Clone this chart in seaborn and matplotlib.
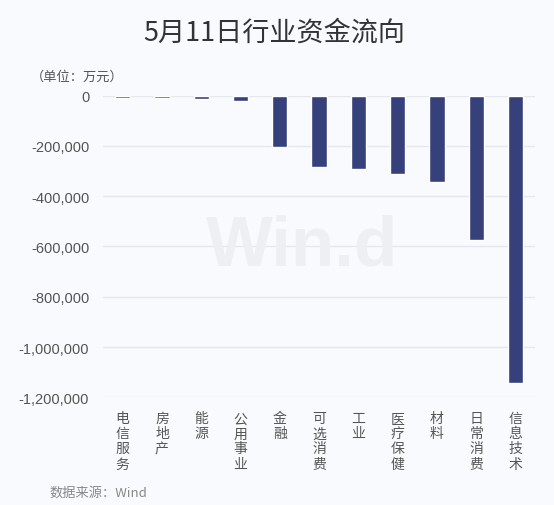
import matplotlib
matplotlib.use("Agg")
import matplotlib.pyplot as plt
import seaborn as sns
import pandas as pd
from matplotlib.ticker import FuncFormatter

categories = ["电信服务", "房地产", "能源", "公用事业", "金融", "可选消费",
              "工业", "医疗保健", "材料", "日常消费", "信息技术"]
values = [-8000, -10000, -14000, -22000, -204000, -283000,
          -292000, -312000, -345000, -575000, -1143000]
yticks = [0, -200000, -400000, -600000, -800000, -1000000, -1200000]

title = "5月11日行业资金流向"
unit_text = "（单位：万元）"
source_text = "数据来源：Wind"

sns.set_theme(style="white")
cjk = ["Noto Sans CJK SC", "DejaVu Sans"]
plt.rcParams["font.family"] = cjk

bg = "#f9fafd"
bar_color = "#36407b"

df = pd.DataFrame({"cat": categories, "val": values})

fig = plt.figure(figsize=(5.54, 5.06), dpi=100, facecolor=bg)
ax = fig.add_axes([0.186, 0.2128, 0.780, 0.5963])
ax.set_facecolor(bg)

sns.barplot(data=df, x="cat", y="val", color=bar_color, width=0.39,
            saturation=1, ax=ax, zorder=3)

ax.set_ylim(-1200000, 0)
ax.set_xlim(-0.5, len(categories) - 0.5)
ax.set_yticks(yticks)
ax.yaxis.set_major_formatter(FuncFormatter(lambda v, p: f"{int(v):,}"))
for lab in ax.get_yticklabels():
    lab.set_fontfamily(["Liberation Sans", "DejaVu Sans"])
ax.tick_params(axis="y", labelsize=10.5, labelcolor="#555555", length=0, pad=10)
ax.tick_params(axis="x", length=0, pad=10)
ax.set_xticks(range(len(categories)))
ax.set_xticklabels(["\n".join(c) for c in categories], fontsize=10,
                   color="#555555", linespacing=1.1, va="top")
ax.set_xlabel("")
ax.set_ylabel("")
ax.grid(axis="y", color="#e6e7ec", linewidth=1, zorder=0)
ax.grid(axis="x", visible=False)
for s in ax.spines.values():
    s.set_visible(False)

# watermark
fig.text(0.545, 0.51, "Win.d", fontsize=51, color="#eeeff3",
         family=["Liberation Sans", "DejaVu Sans"], fontweight="bold",
         ha="center", va="center", zorder=0)

fig.text(0.495, 0.934, title, fontsize=19.5, color="#333333",
         ha="center", va="center", family=cjk)
fig.text(0.055, 0.848, unit_text, fontsize=9.5, color="#555555",
         ha="left", va="center", family=cjk)
fig.text(0.09, 0.025, source_text, fontsize=9.5, color="#888888",
         ha="left", va="center", family=cjk)

fig.savefig("out.png", dpi=100, facecolor=bg)
